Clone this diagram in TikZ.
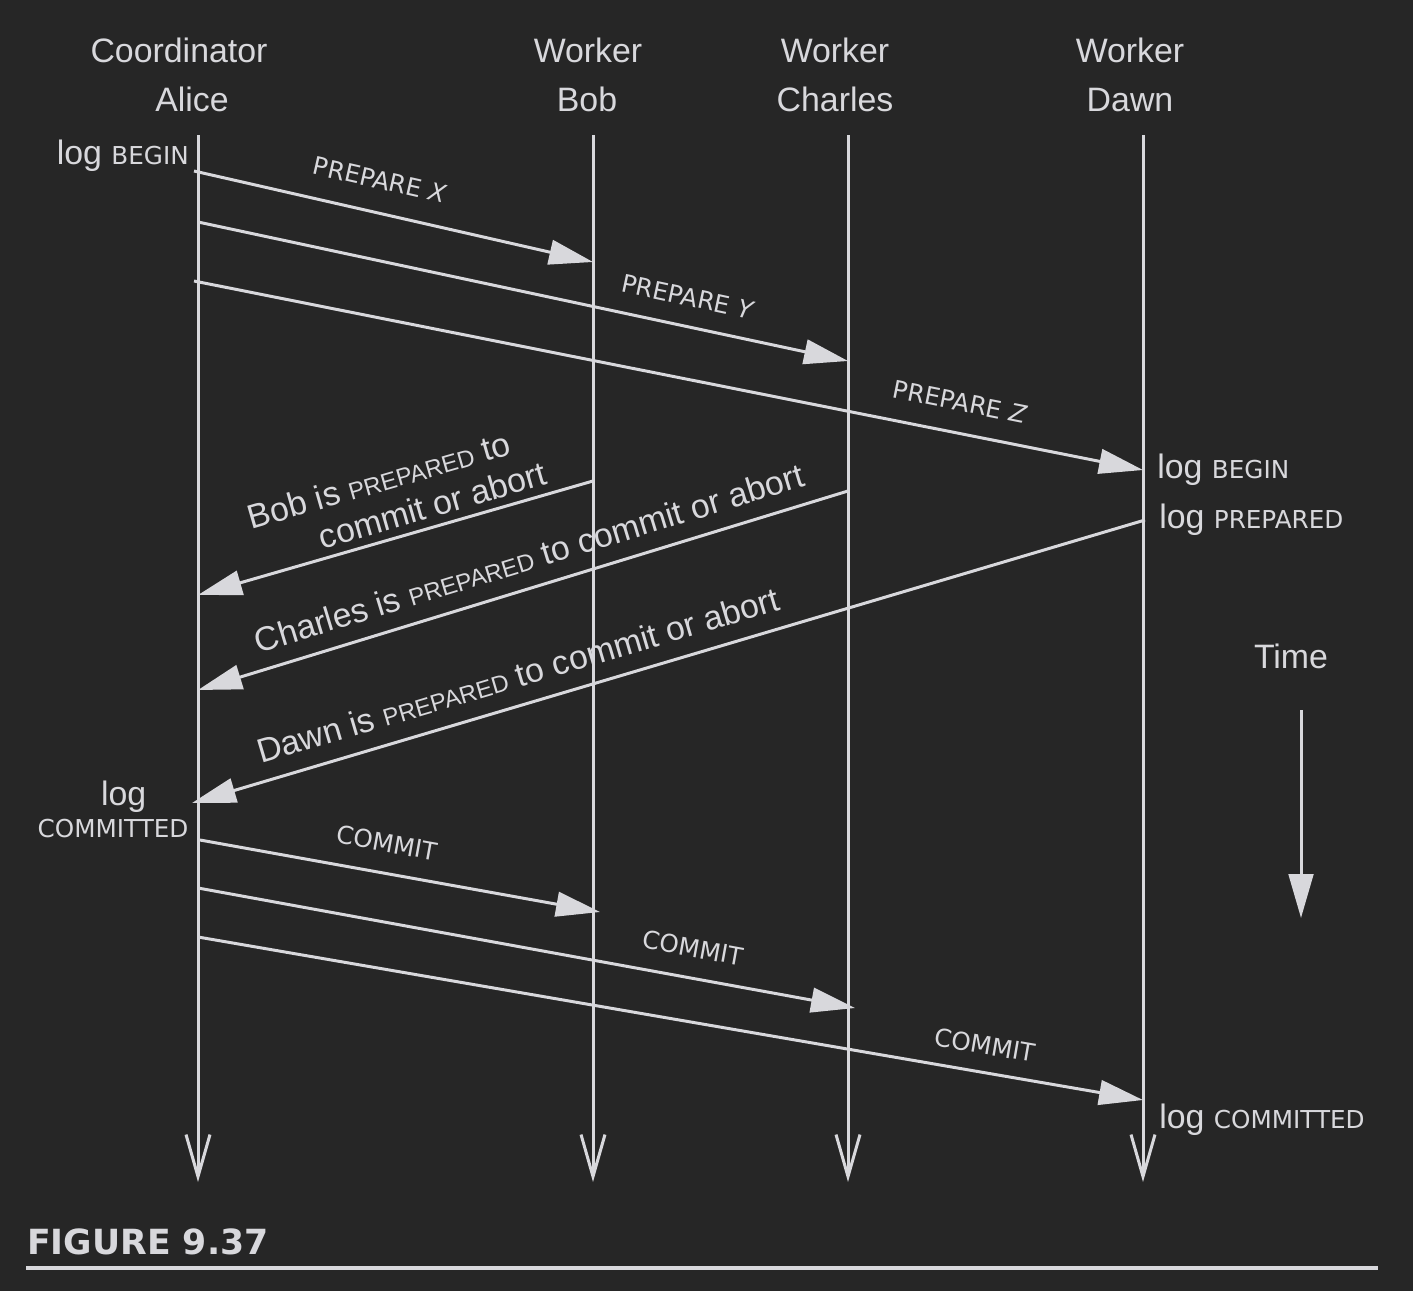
\documentclass[tikz,border=0pt]{standalone}
\usepackage{fontspec}
\setmainfont{Liberation Sans}
\newfontfamily\dvfont{DejaVu Sans}
\usetikzlibrary{arrows.meta}
\definecolor{bgc}{HTML}{262626}
\definecolor{fgc}{HTML}{D8D8DC}
\newcommand\scs[1]{{\dvfont\fontsize{18.5pt}{22pt}\selectfont #1}}
\newcommand\sca[1]{{\fontsize{18pt}{22pt}\selectfont #1}}
\tikzset{
  big/.style={text=fgc, font=\fontsize{25.4pt}{29pt}\selectfont, inner sep=0pt},
  lbl/.style={text=fgc, font=\dvfont\fontsize{18.5pt}{22pt}\selectfont, inner sep=0pt},
  lifeline/.style={draw=fgc, line width=2.25pt, -{Straight Barb[length=31.5pt, width=18pt]}},
  msg/.style={draw=fgc, line width=2.25pt, -{Triangle[length=33pt, width=18.5pt]}},
}
\begin{document}
\begin{tikzpicture}[x=0.75pt, y=-0.75pt]
\fill[bgc] (0,0) rectangle (1413,1291);
\useasboundingbox (0,0) rectangle (1413,1291);

% headers
\node[big, anchor=base] (hA1) at (179,63) {Coordinator};
\node[big, anchor=base] (hA2) at (192,112) {Alice};
\node[big, anchor=base] (hB1) at (588,63) {Worker};
\node[big, anchor=base] (hB2) at (587,112) {Bob};
\node[big, anchor=base] (hC1) at (835,63) {Worker};
\node[big, anchor=base] (hC2) at (835,112) {Charles};
\node[big, anchor=base] (hD1) at (1130,63) {Worker};
\node[big, anchor=base] (hD2) at (1130,112) {Dawn};

% lifelines
\coordinate (aT) at (198,135); \coordinate (aB) at (198,1182);
\coordinate (bT) at (593,135); \coordinate (bB) at (593,1182);
\coordinate (cT) at (848,135); \coordinate (cB) at (848,1182);
\coordinate (dT) at (1143,135); \coordinate (dB) at (1143,1182);
\draw[lifeline] (aT) -- (aB);
\draw[lifeline] (bT) -- (bB);
\draw[lifeline] (cT) -- (cB);
\draw[lifeline] (dT) -- (dB);

% message end points
\coordinate (m1s) at (194,171);  \coordinate (m1e) at (593,262);
\coordinate (m2s) at (198,222);  \coordinate (m2e) at (848,361);
\coordinate (m3s) at (194,281);  \coordinate (m3e) at (1143,470);
\coordinate (m4s) at (593,481);  \coordinate (m4e) at (198,595);
\coordinate (m5s) at (848,491);  \coordinate (m5e) at (198,690);
\coordinate (m6s) at (1145,520); \coordinate (m6e) at (192,803);
\coordinate (m7s) at (200,840);  \coordinate (m7e) at (600,912);
\coordinate (m8s) at (198,888);  \coordinate (m8e) at (855,1008);
\coordinate (m9s) at (198,937);  \coordinate (m9e) at (1143,1100);

\draw[msg] (m1s) -- (m1e);
\draw[msg] (m2s) -- (m2e);
\draw[msg] (m3s) -- (m3e);
\draw[msg] (m4s) -- (m4e);
\draw[msg] (m5s) -- (m5e);
\draw[msg] (m6s) -- (m6e);
\draw[msg] (m7s) -- (m7e);
\draw[msg] (m8s) -- (m8e);
\draw[msg] (m9s) -- (m9e);

% message labels
\node[lbl, rotate=-12.8] (l1) at (380,180) {PREPARE \textit{X}};
\node[lbl, rotate=-12.0] (l2) at (688,297) {PREPARE \textit{Y}};
\node[lbl, rotate=-11.3] (l3) at (960,402) {PREPARE \textit{Z}};
\node[big, rotate=16.1, align=left] (l4) at (397,495) {Bob is \sca{PREPARED} to\\\hspace*{47pt}commit or abort};
\node[big, rotate=17.0] (l5) at (529,558) {Charles is \sca{PREPARED} to commit or abort};
\node[big, rotate=16.5] (l6) at (518,675) {Dawn is \sca{PREPARED} to commit or abort};
\node[lbl, rotate=-10.2] (l7) at (387,843) {COMMIT};
\node[lbl, rotate=-10.3] (l8) at (693,948) {COMMIT};
\node[lbl, rotate=-9.8] (l9) at (985,1045) {COMMIT};

% log labels
\node[big, anchor=base east] (la1) at (189,165) {log \scs{BEGIN}};
\node[big, anchor=base west] (ld1) at (1157,478) {log \scs{BEGIN}};
\node[big, anchor=base west] (ld2) at (1159,528) {log \scs{PREPARED}};
\node[big, anchor=base west] (ld3) at (1159,1128) {log \scs{COMMITTED}};
\node[big, align=center, font=\fontsize{25.4pt}{24pt}\selectfont, anchor=base] (la2) at (113,837) {\hspace*{16pt}log\\\scs{COMMITTED}};

% time
\node[big, anchor=base] (tm) at (1291,668) {Time};
\coordinate (tS) at (1301,710); \coordinate (tE) at (1301,918);
\draw[msg] (tS) -- (tE);

% caption
\node[text=fgc, font=\dvfont\bfseries\fontsize{26pt}{30pt}\selectfont, anchor=base west, inner sep=0pt] (cap) at (27,1254) {FIGURE 9.37};
\coordinate (r1) at (26,1268); \coordinate (r2) at (1378,1268);
\draw[fgc, line width=3pt] (r1) -- (r2);
\end{tikzpicture}
\end{document}
